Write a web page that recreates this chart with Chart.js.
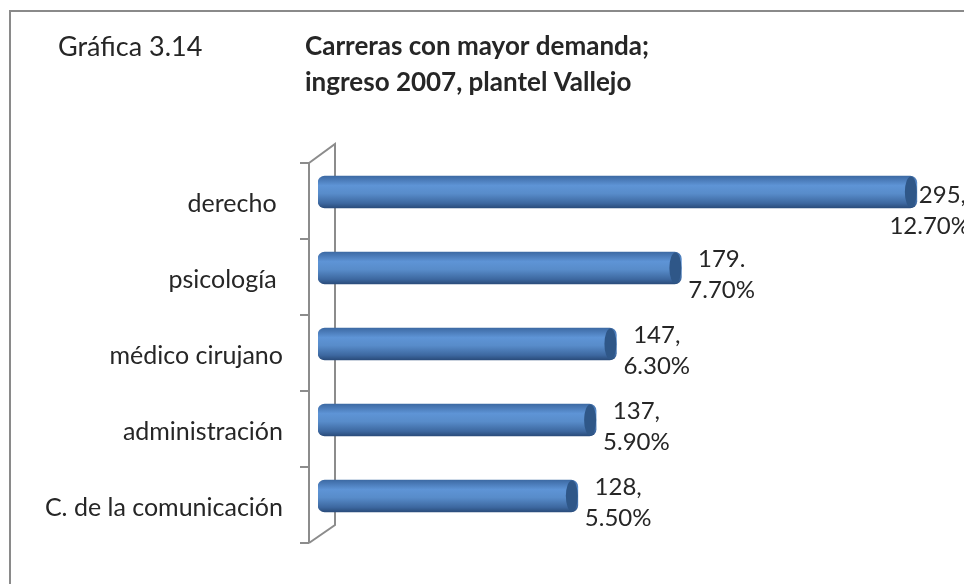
<!DOCTYPE html>
<html>
<head>
<meta charset="utf-8">
<script src="https://cdn.jsdelivr.net/npm/chart.js@4"></script>
<style>
  html, body { margin: 0; padding: 0; background: #fff; }
  #wrap { width: 964px; height: 584px; position: relative; }
</style>
</head>
<body>
<div id="wrap"><canvas id="carrerasChart" width="964" height="584"></canvas></div>
<script>
// datos
const carreras = ['derecho ', 'psicología ', 'médico cirujano', 'administración', 'C. de la comunicación'];
const alumnos = [295, 179, 147, 137, 128];
const porcentajes = ['12.70%', '7.70%', '6.30%', '5.90%', '5.50%'];
const separadores = [',', '.', ',', ',', ','];

const FONT = 'Lato, Calibri, sans-serif';
const TEXT = '#262626';
const AXIS = '#8c8c8c';

// marco, titulos y ejes en perspectiva
const decoPlugin = {
    id: 'deco',
    beforeDraw(chart) {
        const c = chart.ctx;
        c.save();
        c.fillStyle = '#fff';
        c.fillRect(0, 0, chart.width, chart.height);
        c.strokeStyle = '#8a8a8a';
        c.lineWidth = 2;
        c.beginPath();
        c.moveTo(10, chart.height + 5);
        c.lineTo(10, 11);
        c.lineTo(chart.width + 5, 11);
        c.stroke();

        c.fillStyle = TEXT;
        c.textBaseline = 'middle';
        c.textAlign = 'left';
        c.font = '27px ' + FONT;
        c.fillText('Gráfica 3.14', 58, 47);
        c.font = 'bold 26px ' + FONT;
        c.fillText('Carreras con mayor demanda;', 305, 47);
        c.fillText('ingreso 2007, plantel Vallejo', 305, 83);
        c.restore();
    },
    beforeDatasetsDraw(chart) {
        const c = chart.ctx;
        const y = chart.scales.y;
        const left = chart.chartArea.left;
        const front = left - 9, back = left + 17;
        const top = y.top, bottom = y.bottom;
        c.save();
        c.strokeStyle = AXIS;
        c.lineWidth = 2;
        c.beginPath();
        c.moveTo(front, top + 9);
        c.lineTo(front, bottom + 9);
        c.moveTo(front, top + 9);
        c.lineTo(back, top - 10);
        c.lineTo(back, bottom - 9);
        c.lineTo(front, bottom + 9);
        // marcas de categoría
        const n = carreras.length;
        for (let i = 0; i <= n; i++) {
            const ty = top + 9 + (bottom - top) * i / n;
            c.moveTo(front - 9, ty);
            c.lineTo(front, ty);
        }
        c.stroke();
        c.restore();
    },
    afterDatasetsDraw(chart) {
        const c = chart.ctx;
        const meta = chart.getDatasetMeta(0);
        c.save();
        meta.data.forEach((bar, i) => {
            // tapa del cilindro
            c.fillStyle = '#2f5788';
            c.beginPath();
            c.ellipse(bar.x - 6, bar.y, 6, 15.5, 0, 0, Math.PI * 2);
            c.fill();

            // etiqueta de datos
            c.font = '24px ' + FONT;
            c.fillStyle = TEXT;
            c.textBaseline = 'middle';
            c.textAlign = 'center';
            const lines = [alumnos[i] + separadores[i], porcentajes[i]];
            const widths = lines.map(t => c.measureText(t).width);
            const w = Math.max(...widths);
            let boxLeft = bar.x + 7;
            let dy = 0;
            if (boxLeft + w > 970) {
                boxLeft = 970 - w;
                dy = 12;
            }
            const cx1 = Math.max(boxLeft + w / 2, bar.x + 2 + widths[0] / 2);
            c.fillText(lines[0], cx1, bar.y - 9 + dy);
            c.fillText(lines[1], boxLeft + w / 2, bar.y + 22 + dy);
        });
        c.restore();
    }
};

const ctx = document.getElementById('carrerasChart').getContext('2d');
const carrerasChart = new Chart(ctx, {
    type: 'bar',
    data: {
        labels: carreras,
        datasets: [{
            data: alumnos,
            barThickness: 32,
            borderRadius: 7,
            borderSkipped: false,
            borderWidth: 0,
            backgroundColor: function (context) {
                const chart = context.chart;
                if (!chart.chartArea) return '#4f81bd';
                const y = chart.scales.y.getPixelForValue(context.dataIndex);
                const g = chart.ctx.createLinearGradient(0, y - 16, 0, y + 16);
                g.addColorStop(0, '#3d6aa4');
                g.addColorStop(0.3, '#5e94d6');
                g.addColorStop(0.55, '#588cca');
                g.addColorStop(0.85, '#3d68a0');
                g.addColorStop(1, '#2a4c7b');
                return g;
            }
        }]
    },
    options: {
        indexAxis: 'y',
        responsive: false,
        animation: false,
        layout: {
            padding: { top: 154, bottom: 40, left: 0, right: 37 }
        },
        plugins: {
            legend: { display: false },
            title: { display: false },
            tooltip: { enabled: false }
        },
        scales: {
            x: {
                display: false,
                min: 0,
                max: 300
            },
            y: {
                grid: { display: false, drawTicks: false },
                border: { display: false },
                ticks: {
                    color: TEXT,
                    font: { family: FONT, size: 25 },
                    padding: 35,
                    labelOffset: 12
                },
                afterFit: function (scale) {
                    scale.width = 318;
                }
            }
        }
    },
    plugins: [decoPlugin]
});
</script>
</body>
</html>
